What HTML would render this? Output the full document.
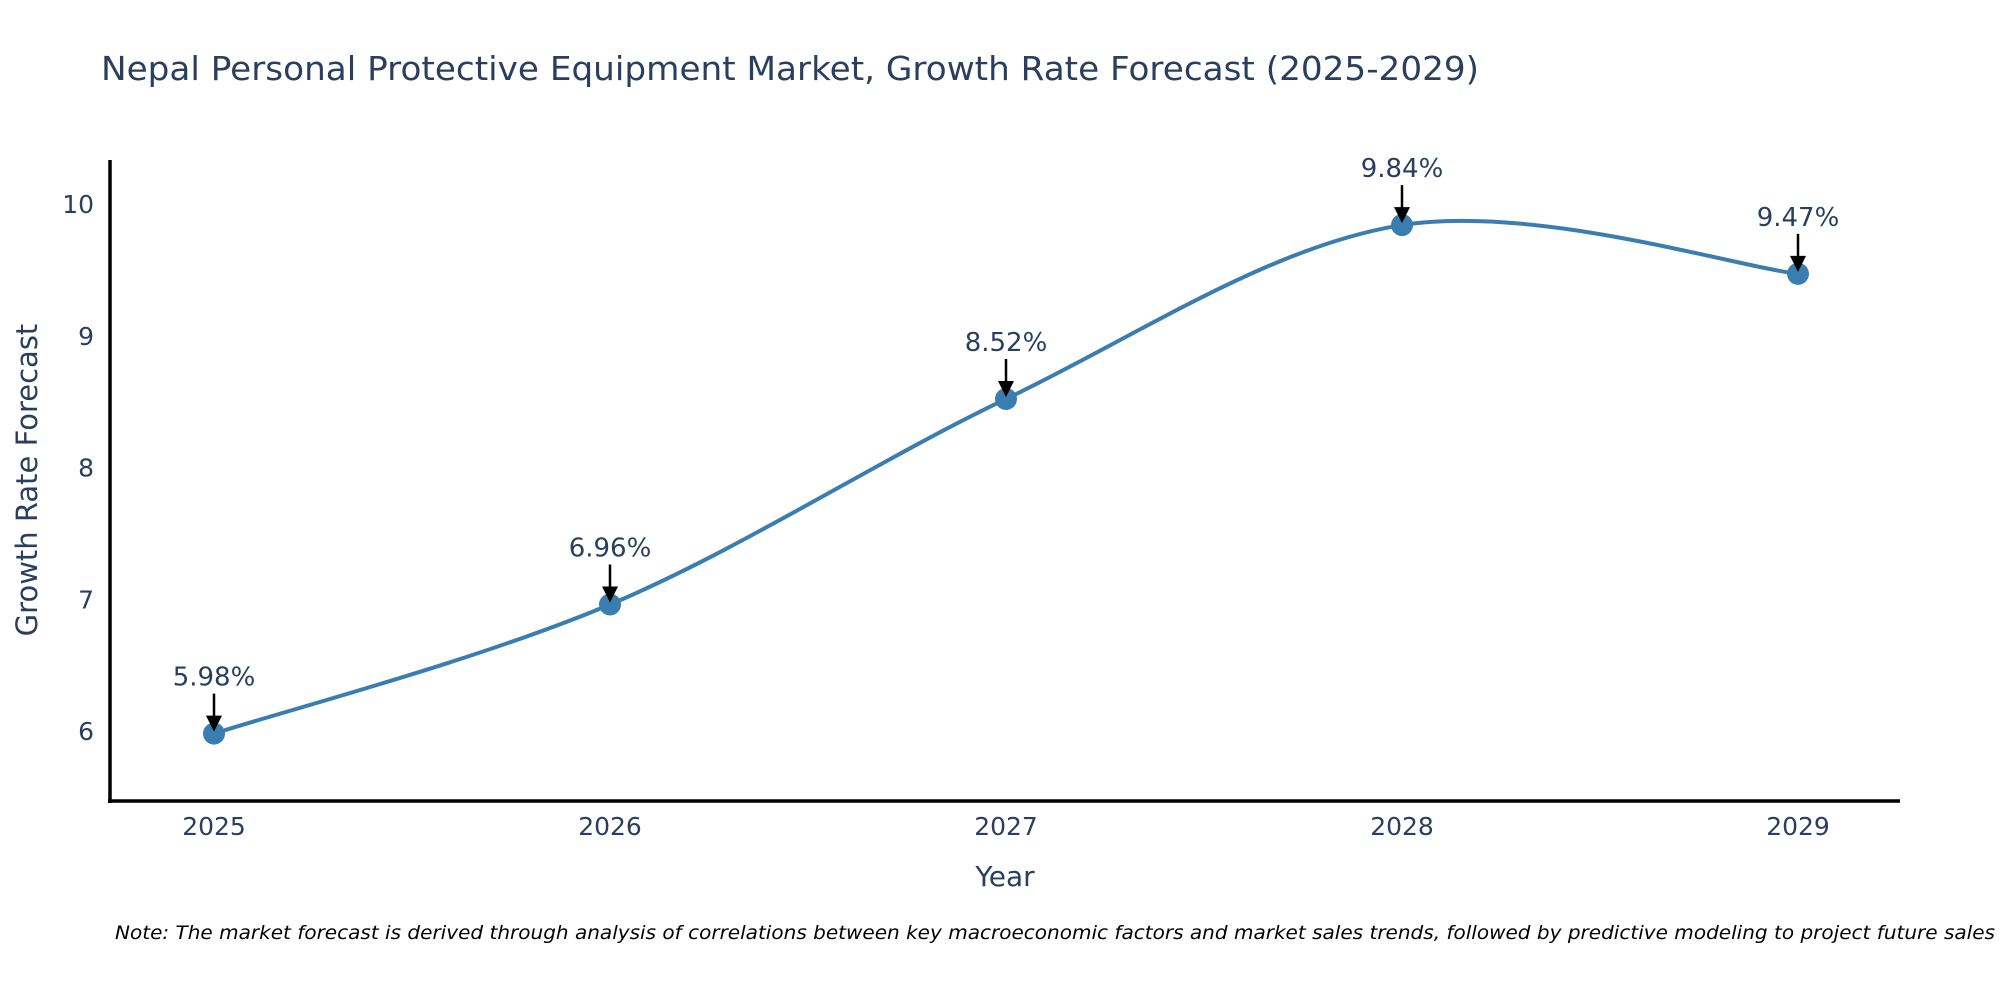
<!DOCTYPE html>
<html><head><meta charset="utf-8"><style>
html,body{margin:0;padding:0;background:#fff;}
svg{display:block;font-family:"DejaVu Sans","Liberation Sans",sans-serif;}
</style></head><body>
<svg id="chart" width="2000" height="1000" viewBox="0 0 2000 1000">
<text x="101" y="80" font-size="33" fill="#2a3f5f" textLength="1378" lengthAdjust="spacingAndGlyphs">Nepal Personal Protective Equipment Market, Growth Rate Forecast (2025-2029)</text>
<g id="yticks"></g>
<g id="xticks"></g>
<line x1="110" y1="160" x2="110" y2="803" stroke="#000" stroke-width="3.5"/>
<line x1="108" y1="801" x2="1900" y2="801" stroke="#000" stroke-width="3.5"/>
<text transform="translate(37,480) rotate(-90)" text-anchor="middle" font-size="29" fill="#2a3f5f">Growth Rate Forecast</text>
<text x="1005" y="886" text-anchor="middle" font-size="28" fill="#2a3f5f">Year</text>
<path id="line" fill="none" stroke="#3a7db0" stroke-width="4"/>
<g id="points"></g>
<text x="115" y="939" font-size="19" font-style="italic" fill="#000" textLength="1880" lengthAdjust="spacingAndGlyphs">Note: The market forecast is derived through analysis of correlations between key macroeconomic factors and market sales trends, followed by predictive modeling to project future sales</text>
</svg>
<script>
const years = [2025, 2026, 2027, 2028, 2029];
const values = [5.98, 6.96, 8.52, 9.84, 9.47];
const yTicks = [6, 7, 8, 9, 10];
const NS = "http://www.w3.org/2000/svg";
const X = i => 214 + (1798 - 214) * i / (years.length - 1);
const Y = v => 731 - (v - 6) * 131.75;
const yg = document.getElementById('yticks');
yTicks.forEach(t => {
  const el = document.createElementNS(NS, 'text');
  
  
  el.setAttribute('x', 94); el.setAttribute('y', Y(t) + 9);
  el.setAttribute('text-anchor', 'end'); el.setAttribute('font-size', '25'); el.setAttribute('fill', '#2a3f5f');
  el.textContent = t; yg.appendChild(el);
});
const xg = document.getElementById('xticks');
years.forEach((yr, i) => {
  const el = document.createElementNS(NS, 'text');
  
  
  el.setAttribute('x', X(i)); el.setAttribute('y', 835);
  el.setAttribute('text-anchor', 'middle'); el.setAttribute('font-size', '25'); el.setAttribute('fill', '#2a3f5f');
  el.textContent = yr; xg.appendChild(el);
});
const pts = values.map((v, i) => [X(i), Y(v)]);
let d = `M${pts[0][0]},${pts[0][1]}`;
for (let i = 0; i < pts.length - 1; i++) {
  const p0 = pts[Math.max(0, i - 1)], p1 = pts[i], p2 = pts[i + 1], p3 = pts[Math.min(pts.length - 1, i + 2)];
  const t = 1 / 6;
  const c1 = [p1[0] + (p2[0] - p0[0]) * t, p1[1] + (p2[1] - p0[1]) * t];
  const c2 = [p2[0] - (p3[0] - p1[0]) * t, p2[1] - (p3[1] - p1[1]) * t];
  d += ` C${c1[0]},${c1[1]} ${c2[0]},${c2[1]} ${p2[0]},${p2[1]}`;
}
document.getElementById('line').setAttribute('d', d);
const pg = document.getElementById('points');
values.forEach((v, i) => {
  const cx = X(i), cy = Y(v);
  const c = document.createElementNS(NS, 'circle');
  
  
  c.setAttribute('cx', cx); c.setAttribute('cy', cy); c.setAttribute('r', 11); c.setAttribute('fill', '#3a7db0');
  pg.appendChild(c);
  const ln = document.createElementNS(NS, 'line');
  
  
  ln.setAttribute('x1', cx); ln.setAttribute('x2', cx); ln.setAttribute('y1', cy - 40); ln.setAttribute('y2', cy - 14);
  ln.setAttribute('stroke', '#000'); ln.setAttribute('stroke-width', '2.5');
  pg.appendChild(ln);
  const hd = document.createElementNS(NS, 'polygon');
  
  
  hd.setAttribute('points', `${cx - 8},${cy - 18} ${cx + 8},${cy - 18} ${cx},${cy - 2}`);
  hd.setAttribute('fill', '#000');
  pg.appendChild(hd);
  const tx = document.createElementNS(NS, 'text');
  
  
  tx.setAttribute('x', cx); tx.setAttribute('y', cy - 48);
  tx.setAttribute('text-anchor', 'middle'); tx.setAttribute('font-size', '26'); tx.setAttribute('fill', '#2a3f5f');
  tx.textContent = v.toFixed(2) + '%';
  pg.appendChild(tx);
});
</script>
</body></html>
